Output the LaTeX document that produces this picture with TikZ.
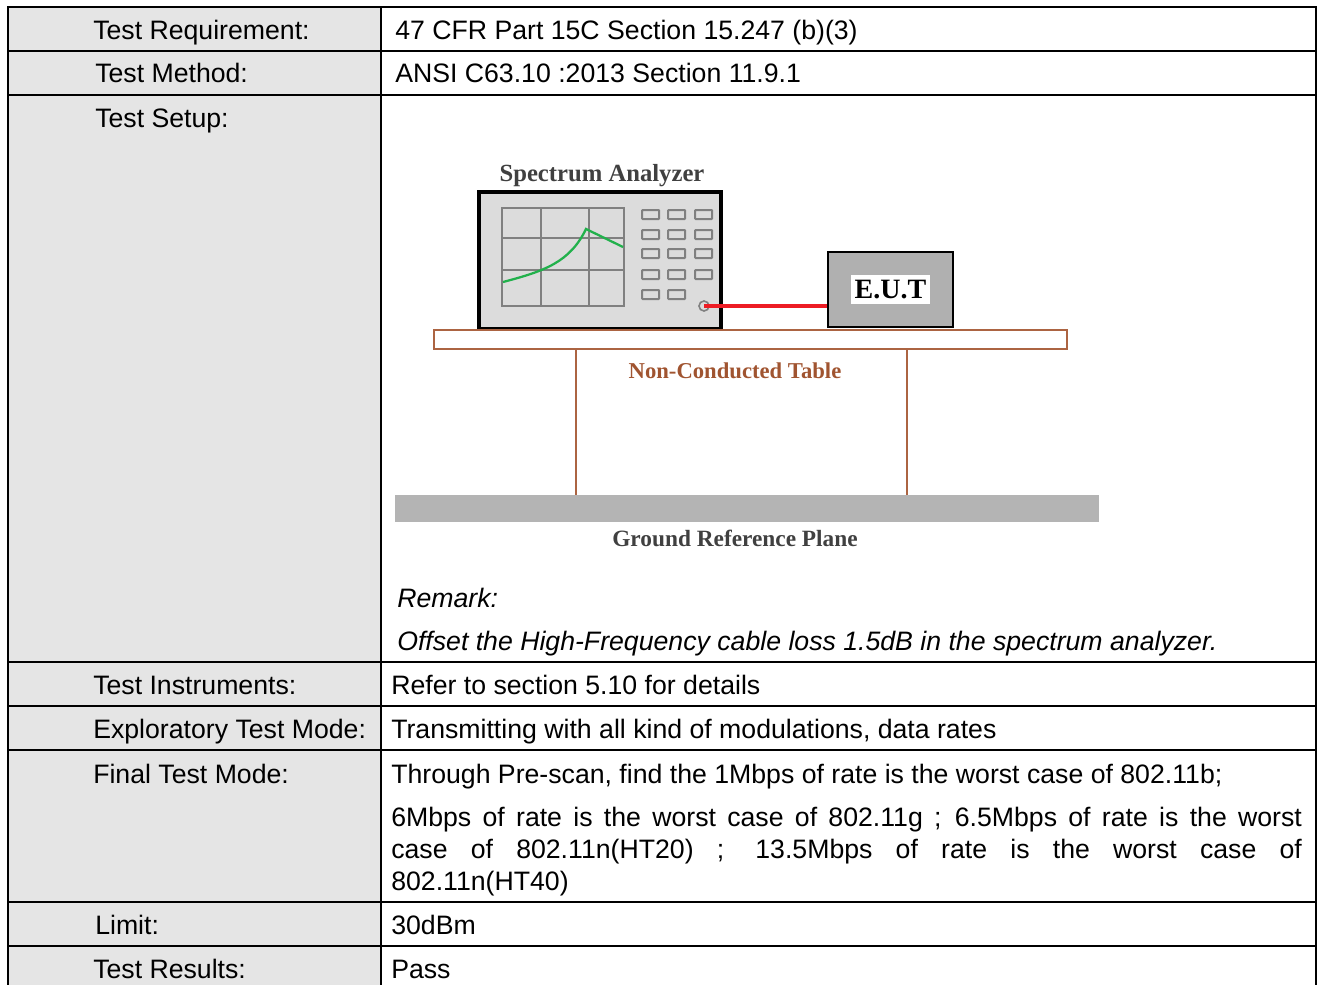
\documentclass[tikz,border=0pt]{standalone}
\usepackage{fontspec}
\setmainfont{Liberation Sans}
\newfontfamily\tagfont{Liberation Serif}
\definecolor{cellgray}{RGB}{229,229,229}
\definecolor{bodygray}{RGB}{220,220,220}
\definecolor{keygray}{RGB}{128,128,128}
\definecolor{eutgray}{RGB}{176,176,176}
\definecolor{planegray}{RGB}{180,180,180}
\definecolor{woodbrown}{RGB}{172,100,66}
\definecolor{tagbrown}{RGB}{160,84,48}
\definecolor{taggray}{RGB}{64,64,64}
\definecolor{tracegreen}{RGB}{34,177,76}
\definecolor{cablered}{RGB}{237,28,36}
\begin{document}
\begin{tikzpicture}[x=0.75pt,y=-0.75pt,
		grid/.style={line width=1.6pt,black},
		cell/.style={anchor=base west,inner sep=0pt,font=\fontsize{20}{24}\selectfont},
		note/.style={cell,font=\fontsize{20}{24}\selectfont\itshape},
		tag/.style={anchor=base,inner sep=0pt,font=\tagfont\bfseries\fontsize{17}{18}\selectfont},
		screen/.style={line width=1.5pt,keygray},
		key/.style={line width=1.5pt,keygray,rounded corners=0.5pt},
		wood/.style={line width=1.5pt,woodbrown},
		eutbox/.style={draw=black,line width=2pt,fill=eutgray,minimum width=93.75pt,minimum height=56.25pt},
		port/.style={circle,draw=keygray,line width=1.2pt,fill=bodygray,minimum size=7.5pt,inner sep=0pt},
		cable/.style={line width=3pt,cablered}]
	\useasboundingbox (0,0) rectangle (1321,985);
	\clip (0,0) rectangle (1321,985);
	\fill[cellgray] (8,7) rectangle (381,995);
	\draw[grid] (8,7) rectangle (1316,995);
	\draw[grid] (381,7) -- (381,995);
	\foreach \y in {51,95,662,706,750,902,946}
		\draw[grid] (8,\y) -- (1316,\y);
	\node [cell] (lreq) at (93,39) {Test Requirement:};
	\node [cell] (lmeth) at (95,82) {Test Method:};
	\node [cell] (lsetup) at (95,127) {Test Setup:};
	\node [cell] (linst) at (93,694) {Test Instruments:};
	\node [cell] (lexpl) at (93,738) {Exploratory Test Mode:};
	\node [cell] (lfinal) at (93,783) {Final Test Mode:};
	\node [cell] (llimit) at (95,934) {Limit:};
	\node [cell] (lres) at (93,978) {Test Results:};
	\node [cell] (req) at (395,39) {47 CFR Part 15C Section 15.247 (b)(3)};
	\node [cell] (meth) at (395,82) {ANSI C63.10 :2013 Section 11.9.1};
	\node [note] (rmk) at (397,607) {Remark:};
	\node [note] (offset) at (397,650) {Offset the High-Frequency cable loss 1.5dB in the spectrum analyzer.};
	\node [cell] (inst) at (391,694) {Refer to section 5.10 for details};
	\node [cell] (expl) at (391,738) {Transmitting with all kind of modulations, data rates};
	\node [cell] (final) at (391,783) {Through Pre-scan, find the 1Mbps of rate is the worst case of 802.11b;};
	\node [cell] (modes) at (391,826) {\parbox[t]{683pt}{\baselineskip=24pt
		6Mbps of rate is the worst case of 802.11g ; 6.5Mbps of rate is the worst\linebreak
		case of 802.11n(HT20) ; 13.5Mbps of rate is the worst case of\linebreak
		802.11n(HT40)}};
	\node [cell] (limit) at (391,934) {30dBm};
	\node [cell] (res) at (391,978) {Pass};
	\node [tag,text=taggray,font=\tagfont\bfseries\fontsize{18.5}{20}\selectfont] (salab) at (602,181) {Spectrum Analyzer};
	\draw[line width=2.4pt,fill=bodygray] (479,192) rectangle (721,329);
	\draw[screen] (502,208) rectangle (624,306);
	\draw[screen] (541,208) -- (541,306) (589,208) -- (589,306)
		(502,238) -- (624,238) (502,270) -- (624,270);
	\draw[line width=1.7pt,tracegreen] (503,282) .. controls (545,271) and (570,262) .. (586,229) -- (623,247);
	\foreach \y in {210,230,249,270}
		\foreach \x in {642,668,695}
			\draw[key] (\x,\y) rectangle ++(17,9);
	\foreach \x in {642,668}
		\draw[key] (\x,290) rectangle ++(17,9);
	\node [port] (port) at (704,306) {};
	\node [eutbox] (eut) at (890.5,289.5) {};
	\node [fill=white,inner xsep=2.5pt,inner ysep=3.5pt,font=\tagfont\bfseries\fontsize{21}{24}\selectfont] (eutlab) at (eut.center) {E.U.T};
	\draw[cable] (port.center) -- (port.center -| eut.west);
	\draw[wood] (434,330) rectangle (1067,349);
	\draw[wood] (576,349) -- (576,495) (907,349) -- (907,495);
	\fill[planegray] (395,495) rectangle (1099,522);
	\node [tag,text=tagbrown] (tablab) at (735,378) {Non-Conducted Table};
	\node [tag,text=taggray,font=\tagfont\bfseries\fontsize{17.5}{18}\selectfont] (gndlab) at (735,546) {Ground Reference Plane};
\end{tikzpicture}
\end{document}
